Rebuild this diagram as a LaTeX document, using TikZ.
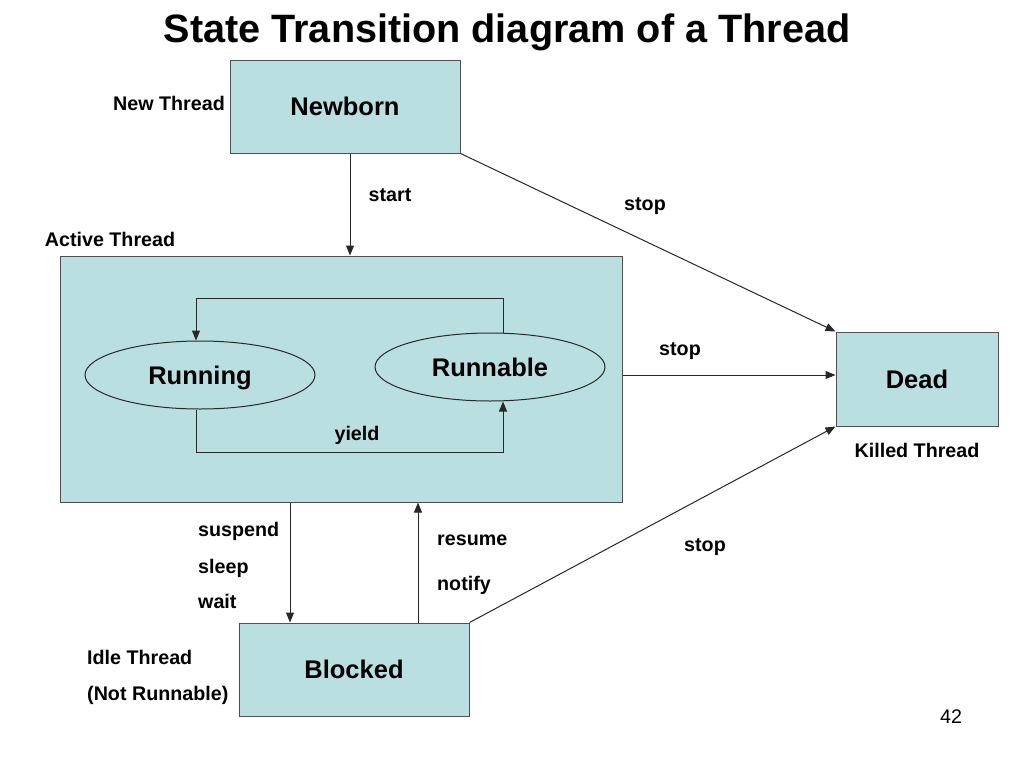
\documentclass[tikz,border=0pt]{standalone}
\usepackage{fontspec}
\setmainfont{Liberation Sans}
\usetikzlibrary{arrows.meta,shapes.geometric}
\definecolor{boxfill}{RGB}{185,223,225}
\definecolor{linec}{RGB}{40,40,40}
\definecolor{boxline}{RGB}{80,80,80}
\begin{document}
\begin{tikzpicture}[x=1pt,y=-1pt,
  lbl/.style={font=\bfseries\fontsize{19.7}{22}\selectfont, text height=14pt, text depth=0pt, inner sep=0pt},
  state/.style={draw=boxline, line width=1pt, fill=boxfill, font=\bfseries\fontsize{25.5}{28}\selectfont, text height=18.3pt, text depth=0pt, inner sep=0pt},
  box/.style={state, rectangle},
  oval/.style={state, ellipse, draw=linec},
  arr/.style={draw=linec, line width=1pt, -{Triangle[length=10pt,width=8pt]}},
  ln/.style={draw=linec, line width=1pt}]
\fill[white] (0,0) rectangle (1024,768);
\useasboundingbox (0,0) rectangle (1024,768);
% title
\node[font=\bfseries\fontsize{39.6}{44}\selectfont, inner sep=0pt, anchor=base] (title) at (507,43) {State Transition diagram of a Thread};
% boxes
\node[box, minimum width=230, minimum height=93] (newborn) at (345,106.5) {Newborn};
\node[box, minimum width=562, minimum height=246] (active) at (341,379) {};
\node[box, minimum width=162, minimum height=94] (dead) at (917,379) {Dead};
\node[box, minimum width=230, minimum height=93] (blocked) at (354,669.5) {Blocked};
\node[oval, minimum width=230, minimum height=68] (running) at (200,375) {Running};
\node[oval, minimum width=230, minimum height=68] (runnable) at (490,367) {Runnable};
% labels
\node[lbl] (lnew) at (169,103) {New Thread};
\node[lbl] (lstart) at (390,194) {start};
\node[lbl] (lstop1) at (645,203) {stop};
\node[lbl] (lactive) at (110,239) {Active Thread};
\node[lbl] (lstop2) at (680,348) {stop};
\node[lbl] (lkilled) at (917,450) {Killed Thread};
\node[lbl] (lyield) at (357,433) {yield};
\node[lbl, anchor=west] (lsuspend) at (198,529) {suspend};
\node[lbl, anchor=west] (lsleep) at (198,566) {sleep};
\node[lbl, anchor=west] (lwait) at (198,601) {wait};
\node[lbl, anchor=west] (lresume) at (437,538) {resume};
\node[lbl, anchor=west] (lnotify) at (437,583) {notify};
\node[lbl] (lstop3) at (705,544) {stop};
\node[lbl, anchor=west] (lidle) at (87,657) {Idle Thread};
\node[lbl, anchor=west] (lnotrun) at (87,693) {(Not Runnable)};
\node[font=\fontsize{19.7}{22}\selectfont, text height=14pt, text depth=0pt, inner sep=0pt] (page) at (951,716) {42};
% connectors
\draw[arr] ([xshift=5pt]newborn.south) -- ([xshift=9pt]active.north);
\draw[arr] (newborn.south east) -- (dead.north west);
\draw[arr] ([yshift=4pt]active.east) -- ([yshift=4pt]dead.west);
\draw[arr] (blocked.north east) -- (dead.south west);
\draw[arr] ([xshift=-51pt]active.south) -- ([xshift=-51pt]active.south |- blocked.north);
\draw[arr] ([xshift=64pt]blocked.north) -- ([xshift=64pt]blocked.north |- active.south);
\draw[arr] ([xshift=13pt]runnable.north) -- ++(0,-34) -| ([xshift=-4pt]running.north);
\draw[arr] ([xshift=-4pt]running.south) -- ++(0,43) -| ([xshift=13pt]runnable.south);
\end{tikzpicture}
\end{document}
